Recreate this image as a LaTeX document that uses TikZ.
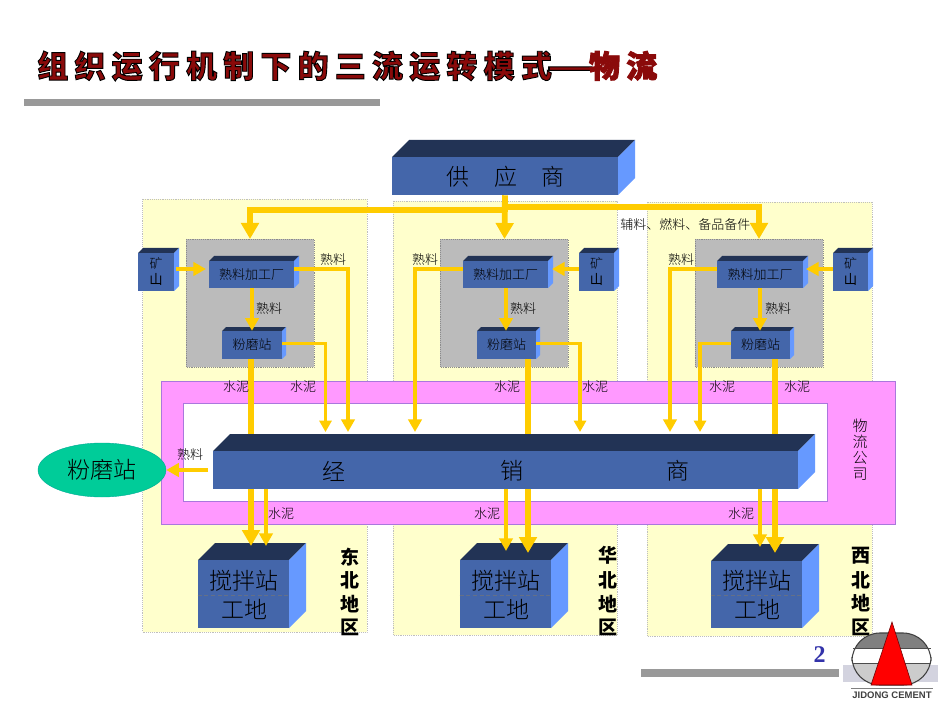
\documentclass[tikz,border=0pt]{standalone}
\usepackage{fontspec}
\setmainfont{Noto Sans CJK SC}[BoldFont=* Black]
\newfontfamily\lightfont{Noto Sans CJK SC Light}
\newfontfamily\numfont{Liberation Serif}
\newfontfamily\logofont{Liberation Sans}
\usetikzlibrary{arrows.meta,calc,shapes.geometric}
\definecolor{boxfront}{HTML}{4466AA}
\definecolor{boxtop}{HTML}{223355}
\definecolor{boxside}{HTML}{6699FF}
\definecolor{flow}{HTML}{FFCC00}
\definecolor{regionfill}{HTML}{FFFFCC}
\definecolor{plantfill}{HTML}{BBBBBB}
\definecolor{pinkfill}{HTML}{FF99FF}
\definecolor{pinkedge}{HTML}{AA77DD}
\definecolor{titlered}{HTML}{8A0A0A}
\definecolor{barcol}{HTML}{999999}
\definecolor{grindfill}{HTML}{00CC99}
\definecolor{grindedge}{HTML}{00AA96}
\definecolor{pagenum}{HTML}{3333AA}
\newcommand\pxfont[1]{\pgfmathsetmacro\ptsz{#1*0.75}\pgfmathsetmacro\ptbl{#1*0.8}\fontsize{\ptsz pt}{\ptbl pt}\selectfont}
% name, x0, y0, x1, y1, depth, text
\newcommand\cuboid[7]{%
  \fill[boxtop] (#2,#3) -- ++(#6,-#6) -- (#4+#6,#3-#6) -- (#4,#3) -- cycle;
  \fill[boxside] (#4,#3) -- (#4+#6,#3-#6) -- (#4+#6,#5-#6) -- (#4,#5) -- cycle;
  \pgfmathsetmacro\cw{(#4-#2)*0.75}\pgfmathsetmacro\ch{(#5-#3)*0.75}
  \node[boxfront node,minimum width=\cw pt,minimum height=\ch pt] (#1) at ({(#2+#4)/2},{(#3+#5)/2}) {#7};
}
\tikzset{
  boxfront node/.style={fill=boxfront,inner sep=0pt,align=center,text=black},
  regionbox/.style={fill=regionfill,draw=black!25,densely dotted,line width=0.4pt,inner sep=0pt},
  plantbox/.style={fill=plantfill,draw=black!45,densely dotted,line width=0.4pt,inner sep=0pt},
  flowbig/.style={draw=flow,line width=4.4pt,-{Triangle[width=13pt,length=12pt]}},
  flowmid/.style={draw=flow,line width=3pt,-{Triangle[width=10pt,length=9.5pt]}},
  flowsmall/.style={draw=flow,line width=2.6pt,-{Triangle[width=9pt,length=8.5pt]}},
  flowbar/.style={draw=flow,line width=4.4pt},
  lbl/.style={inner sep=0pt,text=black,font=\pxfont{13}\lightfont},
  regionlbl/.style={inner sep=0pt,text=black,font=\pxfont{19}\bfseries},
  biglbl/.style={inner sep=0pt,text=black,font=\pxfont{23}\lightfont},
}
\begin{document}
\begin{tikzpicture}[x=0.75pt,y=-0.75pt]
\useasboundingbox (0,0) rectangle (950,713);
\fill[white] (0,0) rectangle (950,713);
% title and rules
\node[anchor=west,inner sep=0pt,text=titlered] (title) at (37,66) {\pxfont{31}\bfseries\addfontfeature{LetterSpace=20}\special{pdf:code q 2 Tr 0 0 0 RG 0.7 w}组织运行机制下的三流运转模式\makebox[1.2em][c]{\scalebox{1.7}[1]{—}}物流\special{pdf:code Q}};
\fill[barcol] (24,99) rectangle (380,106.5);
\fill[barcol] (641,669) rectangle (839,676.5);
% regions
\path[regionbox] (142.5,199) rectangle (367,632);
\path[regionbox] (393,201) rectangle (617,635);
\path[regionbox] (647,202) rectangle (872,636);
\path[plantbox] (186,239) rectangle (314,367);
\path[plantbox] (440,239) rectangle (568,367);
\path[plantbox] (695,239) rectangle (823,367);
\coordinate (g1) at (250,239);
\coordinate (g2) at (504.5,239);
\coordinate (g3) at (759,239);
% logistics company band
\draw[pinkedge,fill=pinkfill,line width=0.6pt] (161,381) rectangle (895,524);
\draw[pinkedge,fill=white,line width=0.6pt] (183,403) rectangle (827,501);
% boxes
\cuboid{sup}{392}{157}{618}{195}{17}{}
\cuboid{dist}{213}{451}{798}{489}{17}{}
\cuboid{k1}{209}{261}{294}{288}{5}{\pxfont{13}\lightfont 熟料加工厂}
\cuboid{k2}{463}{261}{548}{288}{5}{\pxfont{13}\lightfont 熟料加工厂}
\cuboid{k3}{717}{261}{803}{288}{5}{\pxfont{13}\lightfont 熟料加工厂}
\cuboid{m1}{222}{331}{282}{359}{4}{\pxfont{13}\lightfont 粉磨站}
\cuboid{m2}{477}{331}{536}{359}{4}{\pxfont{13}\lightfont 粉磨站}
\cuboid{m3}{731}{331}{790}{359}{4}{\pxfont{13}\lightfont 粉磨站}
\cuboid{q1}{138}{253}{174}{291}{5}{\pxfont{13}\lightfont 矿\\山}
\cuboid{q2}{579}{253}{614}{291}{5}{\pxfont{13}\lightfont 矿\\山}
\cuboid{q3}{833}{253}{868}{291}{5}{\pxfont{13}\lightfont 矿\\山}
\cuboid{s1}{198}{560}{289}{628}{17}{}
\cuboid{s2}{460}{560}{551}{628}{17}{}
\cuboid{s3}{711}{561}{802}{628}{17}{}
\draw[boxtop!70,densely dashed,line width=0.3pt] (s1.west |- 0,595) -- (s1.east |- 0,595);
\draw[boxtop!70,densely dashed,line width=0.3pt] (s2.west |- 0,595) -- (s2.east |- 0,595);
\draw[boxtop!70,densely dashed,line width=0.3pt] (s3.west |- 0,595) -- (s3.east |- 0,595);
\node[ellipse,fill=grindfill,draw=grindedge,line width=0.3pt,minimum width=96pt,minimum height=40.5pt,inner sep=0pt,text=black,font=\pxfont{23}\lightfont] (grind) at (102,470) {粉磨站};
% free ends of connectors
\coordinate (jL) at (505,210);
\coordinate (jR) at (505,207);
\coordinate (d1) at (325.5,432);
\coordinate (d2) at (348,432);
\coordinate (d3) at (415,432);
\coordinate (d4) at (580,432);
\coordinate (d5) at (670,432);
\coordinate (d6) at (700,432);
\coordinate (t1) at (251,434);
\coordinate (t2) at (528,434);
\coordinate (t3) at (775,434);
\coordinate (a1) at (251,546);
\coordinate (b1) at (266,546);
\coordinate (a2) at (528,553);
\coordinate (b2) at (506,551);
\coordinate (a3) at (775,553);
\coordinate (b3) at (760,547);
\coordinate (e1) at (206,269);
\coordinate (e2) at (552,269);
\coordinate (e3) at (806,269);
% supply
\draw[flowbar] (jL) -- (jR);
\draw[flowbig] (sup.south) -- (g2);
\draw[flowbig] (jL) -| (g1);
\draw[flowbig] (jR) -| (g3);
% mines to kilns
\draw[flowmid] (q1.east |- e1) ++(2,0) -- (e1);
\draw[flowmid] (q2.west |- e2) -- (e2);
\draw[flowmid] (q3.west |- e3) -- (e3);
% kilns to mills
\draw[flowmid] (k1.south -| 252,0) -- (m1.north -| 252,0);
\draw[flowmid] (k2.south -| 506,0) -- (m2.north -| 506,0);
\draw[flowmid] (k3.south -| 760,0) -- (m3.north -| 760,0);
% kilns to distributors
\draw[flowmid] (k1.east |- 0,269) -| (d2);
\draw[flowmid] (k2.west |- 0,269) -| (d3);
\draw[flowmid] (k3.west |- 0,269) -| (d5);
% mills to distributors
\draw[flowsmall] (m1.east |- 0,343.5) -| (d1);
\draw[flowsmall] (m2.east |- 0,343.5) -| (d4);
\draw[flowsmall] (m3.west |- 0,343.5) -| (d6);
\draw[flowbar] (m1.south -| t1) -- (t1);
\draw[flowbar] (m2.south -| t2) -- (t2);
\draw[flowbar] (m3.south -| t3) -- (t3);
% distributors to sites
\draw[flowbig] (dist.south -| a1) -- (a1);
\draw[flowmid] (dist.south -| b1) -- (b1);
\draw[flowbig] (dist.south -| a2) -- (a2);
\draw[flowmid] (dist.south -| b2) -- (b2);
\draw[flowbig] (dist.south -| a3) -- (a3);
\draw[flowmid] (dist.south -| b3) -- (b3);
% distributor to grinding station
\draw[flowmid] (208,470) -- (grind.east);
% big box labels
\node[biglbl] (supa) at (458,177) {供};
\node[biglbl] (supb) at (506,177) {应};
\node[biglbl] (supc) at (553,177) {商};
\node[biglbl] (dista) at (334,471) {经};
\node[biglbl] (distb) at (512,471) {销};
\node[biglbl] (distc) at (678,471) {商};
\node[biglbl] (s1a) at (244,581) {搅拌站};
\node[biglbl] (s1b) at (244,609) {工地};
\node[biglbl] (s2a) at (506,581) {搅拌站};
\node[biglbl] (s2b) at (506,609) {工地};
\node[biglbl] (s3a) at (757,581) {搅拌站};
\node[biglbl] (s3b) at (757,609) {工地};
% small labels
\node[lbl] (l1) at (333,260) {熟料};
\node[lbl] (l2) at (269,309) {熟料};
\node[lbl] (l3) at (425,260) {熟料};
\node[lbl] (l4) at (523,309) {熟料};
\node[lbl] (l5) at (681,260) {熟料};
\node[lbl] (l6) at (778,309) {熟料};
\node[lbl] (l7) at (190,455) {熟料};
\node[lbl] (w1) at (236,387) {水泥};
\node[lbl] (w2) at (303,387) {水泥};
\node[lbl] (w3) at (507,387) {水泥};
\node[lbl] (w4) at (595,387) {水泥};
\node[lbl] (w5) at (722,387) {水泥};
\node[lbl] (w6) at (797,387) {水泥};
\node[lbl] (w7) at (281,514) {水泥};
\node[lbl] (w8) at (487,514) {水泥};
\node[lbl] (w9) at (741,514) {水泥};
\node[lbl,anchor=west] (aux) at (620,225) {辅料、燃料、备品备件};
\node[lbl,font=\pxfont{15}\lightfont,align=center] (wl) at (860,449.5) {物\\流\\公\\司};
% region labels
\node[regionlbl] (ra1) at (350,557) {东};
\node[regionlbl] (ra2) at (350,580) {北};
\node[regionlbl] (ra3) at (350,604) {地};
\node[regionlbl] (ra4) at (350,627) {区};
\node[regionlbl] (rb1) at (608,555) {华};
\node[regionlbl] (rb2) at (608,580) {北};
\node[regionlbl] (rb3) at (608,604) {地};
\node[regionlbl] (rb4) at (608,627) {区};
\node[regionlbl] (rc1) at (861,556) {西};
\node[regionlbl] (rc2) at (861,580) {北};
\node[regionlbl] (rc3) at (861,603) {地};
\node[regionlbl] (rc4) at (861,627) {区};
% page number
\node[inner sep=0pt,text=pagenum] (pg) at (819.5,655) {\pxfont{24}\numfont\bfseries 2};
% logo
\fill[blue!15!gray!30] (843,665) rectangle (938,682);
\begin{scope}
\clip[rounded corners=21pt] (852,633) rectangle (931,685);
\fill[white] (852,633) rectangle (931,685);
\fill[black!50] (852,633) rectangle (931,648);
\fill[black!20] (852,663) rectangle (931,685);
\end{scope}
\draw[black!75,line width=0.8pt,rounded corners=21pt] (852,633) rectangle (931,685);
\draw[black!70,line width=0.5pt] (853,648) -- (931,648);
\draw[black!70,line width=0.5pt] (853,663) -- (931,663);
\fill[red,draw=black!60!red,line width=0.4pt] (892,622) -- (912,685) -- (871,685) -- cycle;
\draw[black!50,line width=0.5pt] (851,688.5) -- (933,688.5);
\node[inner sep=0pt,text=black!75] (logotext) at (892,695.5) {\pxfont{9.5}\logofont\bfseries JIDONG CEMENT};
\end{tikzpicture}
\end{document}
